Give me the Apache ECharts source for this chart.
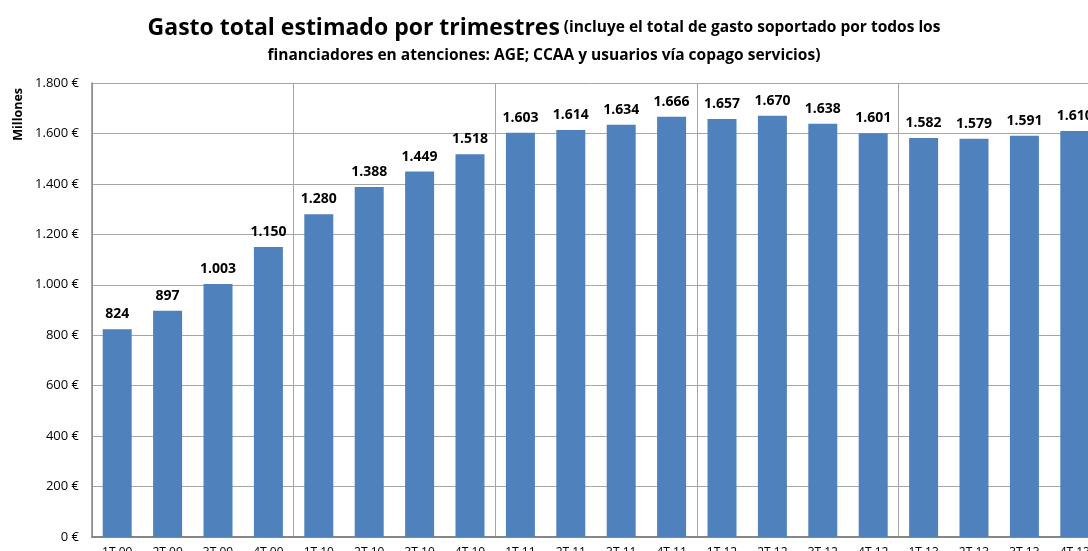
<!DOCTYPE html>
<html>
<head>
<meta charset="utf-8">
<script src="https://cdn.jsdelivr.net/npm/echarts@6/dist/echarts.min.js"></script>
<style>
html,body{margin:0;padding:0;background:#fff;}
#chart{width:1088px;height:551px;}
</style>
</head>
<body>
<div id="chart"></div>
<script>
const categories = ["1T 09","2T 09","3T 09","4T 09","1T 10","2T 10","3T 10","4T 10","1T 11","2T 11","3T 11","4T 11","1T 12","2T 12","3T 12","4T 12","1T 13","2T 13","3T 13","4T 13"];
const gasto = [824,897,1003,1150,1280,1388,1449,1518,1603,1614,1634,1666,1657,1670,1638,1601,1582,1579,1591,1610];
const yTicks = {min:0, max:1800, interval:200};
const titleMain = "Gasto total estimado por trimestres";
const titleSub1 = "(incluye el total de gasto soportado por todos los";
const titleSub2 = "financiadores en atenciones: AGE; CCAA y usuarios vía copago servicios)";
const yName = "Millones";

const FONT = '"Open Sans", sans-serif';
function fmt(v){ return String(v).replace(/\B(?=(\d{3})+(?!\d))/g, '.'); }

const chart = echarts.init(document.getElementById('chart'), null, {renderer:'canvas'});
chart.setOption({
  animation:false,
  backgroundColor:'#fff',
  title:{
    left:'center', top:8,
    text:'{a|'+titleMain+'}{b| '+titleSub1+'}\n{c|'+titleSub2+'}',
    textStyle:{
      fontFamily:FONT,
      rich:{
        a:{fontSize:23,fontWeight:'bold',color:'#000',fontFamily:FONT,lineHeight:30},
        b:{fontSize:15.5,fontWeight:'bold',color:'#000',fontFamily:FONT,lineHeight:26},
        c:{fontSize:15.5,fontWeight:'bold',color:'#000',fontFamily:FONT,lineHeight:26}
      }
    }
  },
  graphic:[{
    type:'text', left:12, top:88, rotation:Math.PI/2,
    style:{text:yName, font:'bold 12.5px '+FONT, fill:'#000'}
  }],
  grid:{left:92, top:83, width:1008, height:454, containLabel:false, outerBoundsMode:'none'},
  xAxis:{
    type:'category', data:categories,
    axisLine:{show:true, lineStyle:{color:'#868686', width:2}},
    axisTick:{show:false},
    axisLabel:{fontFamily:FONT, fontSize:12, color:'#000', margin:10, interval:0},
    splitLine:{show:true, interval:function(i){return i%4===0;}, lineStyle:{color:'#a6a6a6', width:1}}
  },
  yAxis:{
    type:'value', min:yTicks.min, max:yTicks.max, interval:yTicks.interval,
    axisLine:{show:true, lineStyle:{color:'#868686', width:1.5}},
    axisTick:{show:false},
    axisLabel:{fontFamily:FONT, fontSize:13, color:'#000', margin:13, formatter:function(v){return fmt(v)+' €';}},
    splitLine:{show:true, lineStyle:{color:'#a6a6a6', width:1}}
  },
  series:[{
    type:'bar', data:gasto, barWidth:29,
    itemStyle:{color:'#4F81BD'},
    label:{show:true, position:'top', distance:8, fontFamily:FONT, fontSize:14, fontWeight:'bold', color:'#000',
      formatter:function(p){return fmt(p.value);}}
  }]
});
</script>
</body>
</html>
